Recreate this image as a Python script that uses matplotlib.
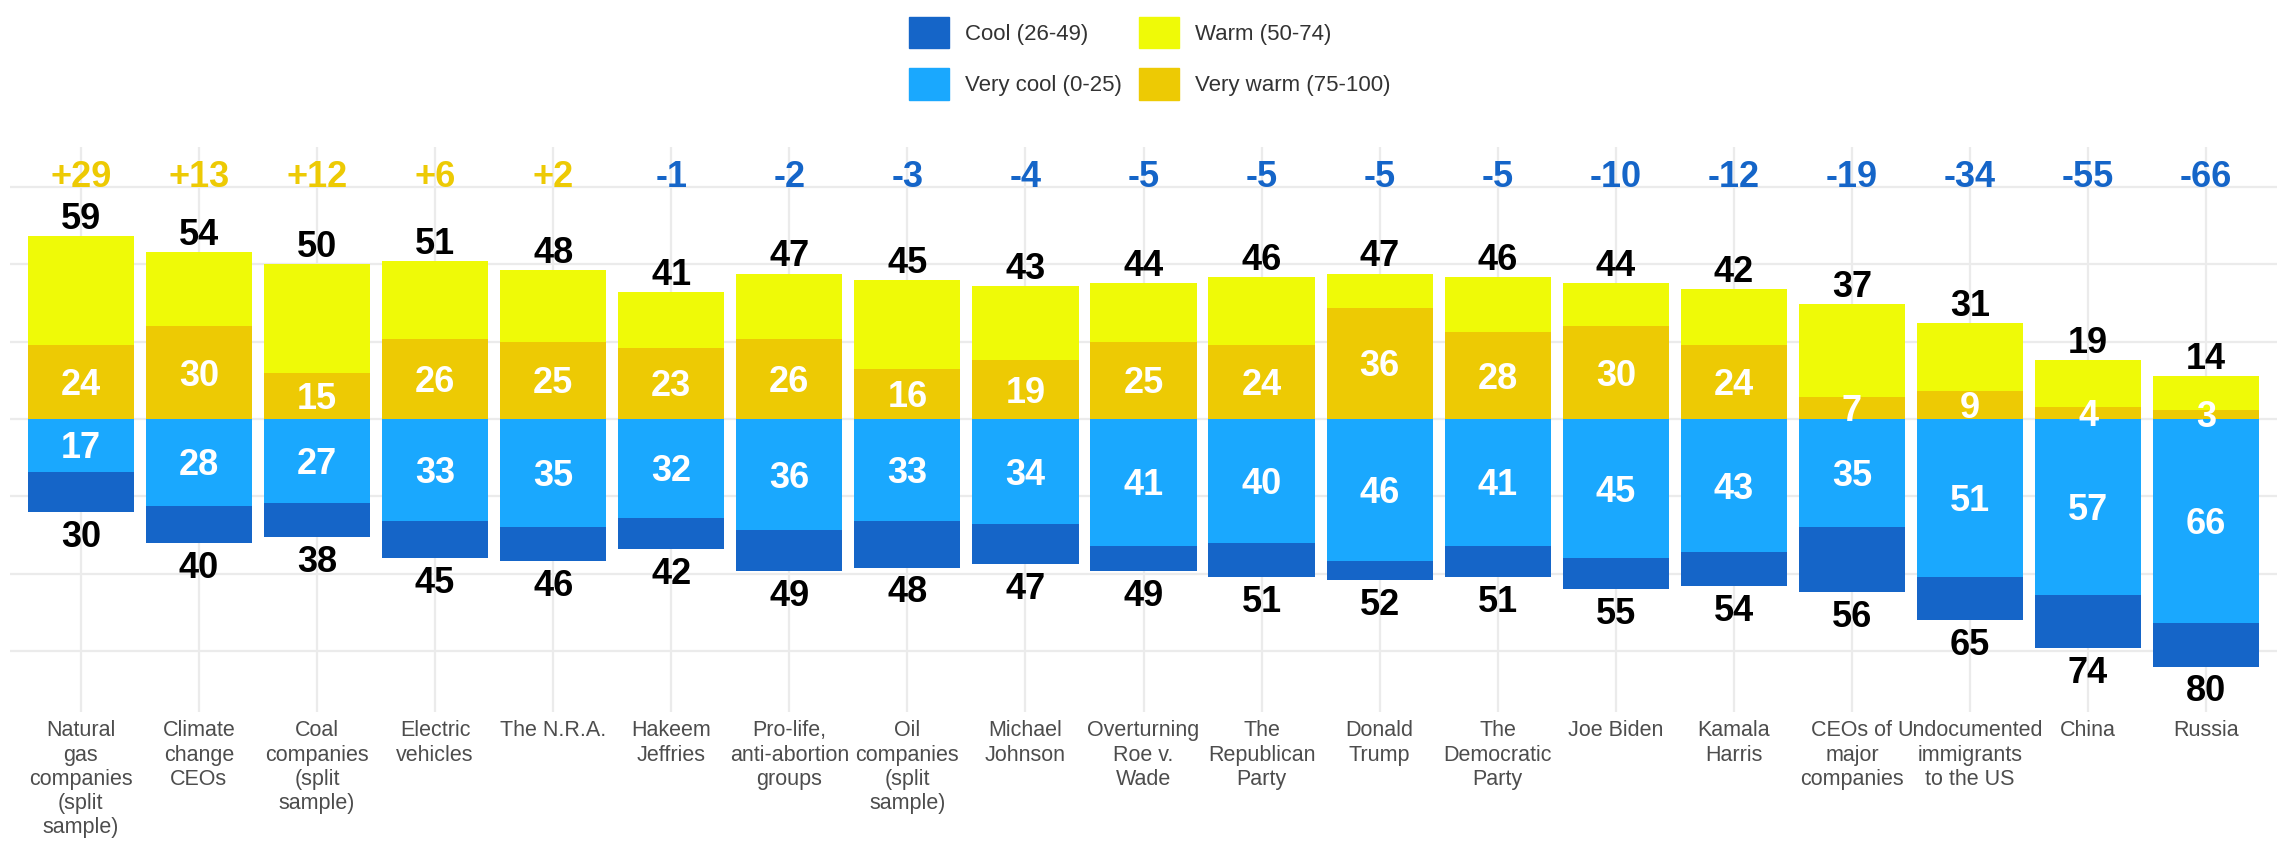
import matplotlib.pyplot as plt
from matplotlib.patches import Patch
import numpy as np

plt.rcParams['font.family'] = ['Liberation Sans', 'DejaVu Sans']

categories = ["Natural\ngas\ncompanies\n(split\nsample)", "Climate\nchange\nCEOs",
              "Coal\ncompanies\n(split\nsample)", "Electric\nvehicles", "The N.R.A.",
              "Hakeem\nJeffries", "Pro-life,\nanti-abortion\ngroups",
              "Oil\ncompanies\n(split\nsample)", "Michael\nJohnson", "Overturning\nRoe v.\nWade",
              "The\nRepublican\nParty", "Donald\nTrump", "The\nDemocratic\nParty", "Joe Biden",
              "Kamala\nHarris", "CEOs of\nmajor\ncompanies", "Undocumented\nimmigrants\nto the US",
              "China", "Russia"]
warm_total = [59, 54, 50, 51, 48, 41, 47, 45, 43, 44, 46, 47, 46, 44, 42, 37, 31, 19, 14]
very_warm = [24, 30, 15, 26, 25, 23, 26, 16, 19, 25, 24, 36, 28, 30, 24, 7, 9, 4, 3]
cool_total = [30, 40, 38, 45, 46, 42, 49, 48, 47, 49, 51, 52, 51, 55, 54, 56, 65, 74, 80]
very_cool = [17, 28, 27, 33, 35, 32, 36, 33, 34, 41, 40, 46, 41, 45, 43, 35, 51, 57, 66]
net = ["+29", "+13", "+12", "+6", "+2", "-1", "-2", "-3", "-4", "-5", "-5", "-5", "-5",
       "-10", "-12", "-19", "-34", "-55", "-66"]

c_cool = "#1565C8"
c_vcool = "#1AA8FE"
c_warm = "#EFFA07"
c_vwarm = "#EDCA04"

wt = np.array(warm_total)
vw = np.array(very_warm)
ct = np.array(cool_total)
vc = np.array(very_cool)
x = np.arange(len(categories))

fig = plt.figure(figsize=(22.9, 8.42), dpi=100)
ax = fig.add_axes([10 / 2290, 1 - 712 / 842, 2267 / 2290, 565 / 842])

w = 0.9
ax.bar(x, vw, w, color=c_vwarm, zorder=2)
ax.bar(x, wt - vw, w, bottom=vw, color=c_warm, zorder=2)
ax.bar(x, -vc, w, color=c_vcool, zorder=2)
ax.bar(x, -(ct - vc), w, bottom=-vc, color=c_cool, zorder=2)

fs = 26
cap = 8.4
for i in x:
    ax.text(i, wt[i] + 2.3, str(wt[i]), ha="center", va="baseline", fontsize=fs,
            fontweight="bold", color="black")
    ax.text(i, -ct[i] - 2.9 - cap, str(ct[i]), ha="center", va="baseline", fontsize=fs,
            fontweight="bold", color="black")
    ax.text(i, vw[i] / 2 - cap / 2, str(vw[i]), ha="center", va="baseline", fontsize=fs,
            fontweight="bold", color="white")
    ax.text(i, -vc[i] / 2 - cap / 2, str(vc[i]), ha="center", va="baseline", fontsize=fs,
            fontweight="bold", color="white")
    col = c_vwarm if net[i].startswith("+") else c_cool
    ax.text(i, 75, net[i], ha="center", va="baseline", fontsize=fs,
            fontweight="bold", color=col, clip_on=False)

ax.set_xlim(-0.6, len(categories) - 0.4)
ax.set_ylim(-94.7, 87.9)
ax.set_yticks([-75, -50, -25, 0, 25, 50, 75])
ax.set_yticklabels([])
ax.set_xticks(x)
ax.set_xticklabels(categories, fontsize=15.5, color="#4D4D4D", linespacing=1.2)
ax.tick_params(axis="both", length=0, pad=6)
ax.grid(True, color="#EBEBEB", linewidth=1.6, zorder=0)
ax.set_axisbelow(True)
for s in ax.spines.values():
    s.set_visible(False)

handles = [Patch(color=c_cool, label="Cool (26-49)"),
           Patch(color=c_vcool, label="Very cool (0-25)"),
           Patch(color=c_warm, label="Warm (50-74)"),
           Patch(color=c_vwarm, label="Very warm (75-100)")]
fig.legend(handles=handles, loc="center", bbox_to_anchor=(0.502, 0.931), ncol=2,
           frameon=False, fontsize=16, handlelength=1.8, handleheight=1.8,
           labelspacing=0.9, columnspacing=0.8, handletextpad=0.7, labelcolor="#333333")

fig.savefig("out.png", dpi=100)
